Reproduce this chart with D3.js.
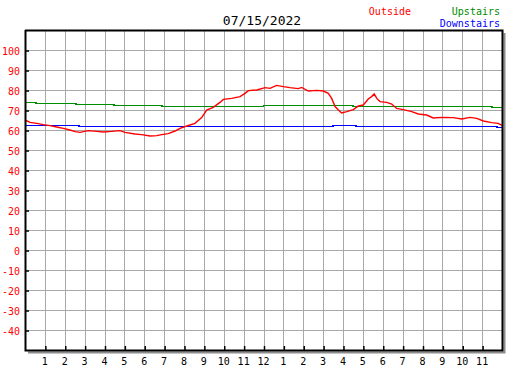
<!DOCTYPE html>
<html>
<head>
<meta charset="utf-8">
<script src="https://cdn.jsdelivr.net/npm/d3@7"></script>
<style>
  html, body { margin: 0; padding: 0; background: #fff; }
  svg { display: block; }
  text { font-family: "DejaVu Sans Mono", "Liberation Mono", monospace; }
</style>
</head>
<body>
<svg id="chart" width="527" height="370"></svg>
<script>
const title = '07/15/2022';

// hour ticks along the bottom
const hourTicks = d3.range(1, 24);
const hourLabels = ['1','2','3','4','5','6','7','8','9','10','11','12','1','2','3','4','5','6','7','8','9','10','11'];
const tempTicks = [100, 90, 80, 70, 60, 50, 40, 30, 20, 10, 0, -10, -20, -30, -40];

// Outside temperature
const outsideHours = [0, 0.25, 0.59, 0.92, 1.26, 1.59, 1.93, 2.26, 2.52, 2.77, 3.18, 3.61, 3.94, 4.36, 4.78, 5.03,
  5.53, 5.87, 6.29, 6.63, 6.88, 7.21, 7.55, 7.8, 8.14, 8.55, 8.89, 9.14, 9.47, 9.81, 9.98, 10.4, 10.82, 11.07,
  11.24, 11.66, 12.08, 12.33, 12.66, 13.0, 13.33, 13.75, 13.92, 14.25, 14.68, 15.01, 15.26, 15.43, 15.6, 15.77,
  15.93, 16.19, 16.52, 16.77, 17.02, 17.27, 17.44, 17.57, 17.7, 17.86, 18.2, 18.45, 18.7, 19.03, 19.46, 19.79,
  20.21, 20.54, 20.97, 21.55, 21.97, 22.39, 22.73, 23.06, 23.48, 23.81, 24];
const outsideTemps = [65, 63.8, 63.3, 62.7, 62.2, 61.5, 60.8, 60, 59.2, 58.8, 59.7, 59.3, 59, 59.3, 59.7, 58.8,
  58, 57.7, 57, 57.2, 57.7, 58.2, 59.5, 60.8, 62, 63.3, 66.2, 70, 71.3, 73.8, 75.3, 75.8, 76.7, 78.3,
  79.7, 80, 81.2, 80.8, 82.3, 81.7, 81.2, 80.7, 81.3, 79.5, 79.8, 79.5, 78.3, 75.8, 71.7, 70,
  68.5, 69.2, 70.2, 72, 72.5, 75.5, 76.7, 78, 75.8, 74.2, 73.8, 73, 70.8, 70.2, 69.2, 68,
  67.5, 66, 66.3, 66.2, 65.5, 66.3, 65.8, 64.5, 63.7, 63.3, 62.3];

// Upstairs / Downstairs thermostat readings (step changes)
const upstairsHours = [0, 0.55, 2.57, 4.48, 6.9, 12.0, 16.5, 23.5, 24];
const upstairsTemps = [74, 73.5, 73, 72.5, 72, 72.5, 72, 71.5, 71.5];
const downstairsHours = [0, 2.72, 15.5, 16.65, 23.75, 24];
const downstairsTemps = [62.5, 62, 62.5, 62, 61.5, 61.5];

const svg = d3.select('#chart');
const plotLeft = 25, plotRight = 502, plotTop = 30, plotBottom = 350;

const x = d3.scaleLinear().domain([0, 24]).range([plotLeft, plotRight]);
const y = d3.scaleLinear().domain([-50, 110]).range([plotBottom, plotTop]);

// shadow
svg.append('path')
  .attr('d', `M${plotRight + 2.5},${plotTop + 3} V${plotBottom + 2.5} H${plotLeft + 3}`)
  .attr('fill', 'none')
  .attr('stroke', '#8c8c8c')
  .attr('stroke-width', 2);

// grid
const grid = svg.append('g').attr('shape-rendering', 'crispEdges');
grid.selectAll('line.v')
  .data(hourTicks)
  .join('line')
  .attr('class', 'v')
  .attr('x1', d => Math.round(x(d)) + 0.5)
  .attr('x2', d => Math.round(x(d)) + 0.5)
  .attr('y1', plotTop)
  .attr('y2', plotBottom)
  .attr('stroke', '#a8a8a8')
  .attr('stroke-width', 1);
grid.selectAll('line.h')
  .data(tempTicks)
  .join('line')
  .attr('class', 'h')
  .attr('x1', plotLeft)
  .attr('x2', plotRight)
  .attr('y1', d => y(d) + 0.5)
  .attr('y2', d => y(d) + 0.5)
  .attr('stroke', '#a8a8a8')
  .attr('stroke-width', 1);

// y axis
const yAxis = svg.append('g')
  .attr('transform', `translate(${plotLeft},0.5)`)
  .call(d3.axisRight(y).tickValues(tempTicks).tickSize(4).tickFormat(d => d));
yAxis.select('.domain').remove();
yAxis.selectAll('line').attr('stroke', '#000').attr('stroke-width', 1.5);
yAxis.selectAll('text')
  .attr('x', -5)
  .attr('text-anchor', 'end')
  .attr('dy', '0.4em')
  .attr('fill', '#ff0000')
  .attr('font-size', 10)
  .attr('font-family', '"DejaVu Sans Mono", monospace');

// x axis
const xAxis = svg.append('g')
  .attr('transform', `translate(0.5,${plotBottom})`)
  .call(d3.axisTop(x).tickValues(hourTicks).tickSize(4).tickFormat((d, i) => hourLabels[i]));
xAxis.select('.domain').remove();
xAxis.selectAll('line').attr('stroke', '#000').attr('stroke-width', 1.5);
xAxis.selectAll('text')
  .attr('y', 15)
  .attr('dy', 0)
  .attr('dx', -1)
  .attr('fill', '#000')
  .attr('font-size', 10)
  .attr('font-family', '"DejaVu Sans Mono", monospace');

// series
const line = d3.line()
  .x(d => x(d[0]))
  .y(d => y(d[1]));
const stepLine = d3.line()
  .x(d => x(d[0]))
  .y(d => y(d[1]) + 0.5)
  .curve(d3.curveStepAfter);

svg.append('path')
  .datum(d3.zip(upstairsHours, upstairsTemps))
  .attr('fill', 'none')
  .attr('stroke', '#008c00')
  .attr('stroke-width', 1.5)
  .attr('shape-rendering', 'crispEdges')
  .attr('d', stepLine);

svg.append('path')
  .datum(d3.zip(downstairsHours, downstairsTemps))
  .attr('fill', 'none')
  .attr('stroke', '#0000ff')
  .attr('stroke-width', 1.5)
  .attr('shape-rendering', 'crispEdges')
  .attr('d', stepLine);

svg.append('path')
  .datum(d3.zip(outsideHours, outsideTemps))
  .attr('fill', 'none')
  .attr('stroke', '#ff0000')
  .attr('stroke-width', 1.4)
  .attr('d', line);

// frame
svg.append('path')
  .attr('d', `M${plotLeft + 0.5},${plotTop} V${plotBottom + 0.5} H${plotRight + 0.5} V${plotTop + 0.5} H${plotLeft}`)
  .attr('fill', 'none')
  .attr('stroke', '#000')
  .attr('stroke-width', 2);

// title + legend
svg.append('text')
  .attr('x', 262)
  .attr('y', 25)
  .attr('text-anchor', 'middle')
  .attr('font-size', 13)
  .attr('fill', '#000')
  .text(title);

svg.append('text')
  .attr('x', 411)
  .attr('y', 15)
  .attr('text-anchor', 'end')
  .attr('font-size', 10)
  .attr('fill', '#ff0000')
  .text('Outside');
svg.append('text')
  .attr('x', 500)
  .attr('y', 15)
  .attr('text-anchor', 'end')
  .attr('font-size', 10)
  .attr('fill', '#008c00')
  .text('Upstairs');
svg.append('text')
  .attr('x', 500)
  .attr('y', 27)
  .attr('text-anchor', 'end')
  .attr('font-size', 10)
  .attr('fill', '#0000ff')
  .text('Downstairs');
</script>
</body>
</html>
